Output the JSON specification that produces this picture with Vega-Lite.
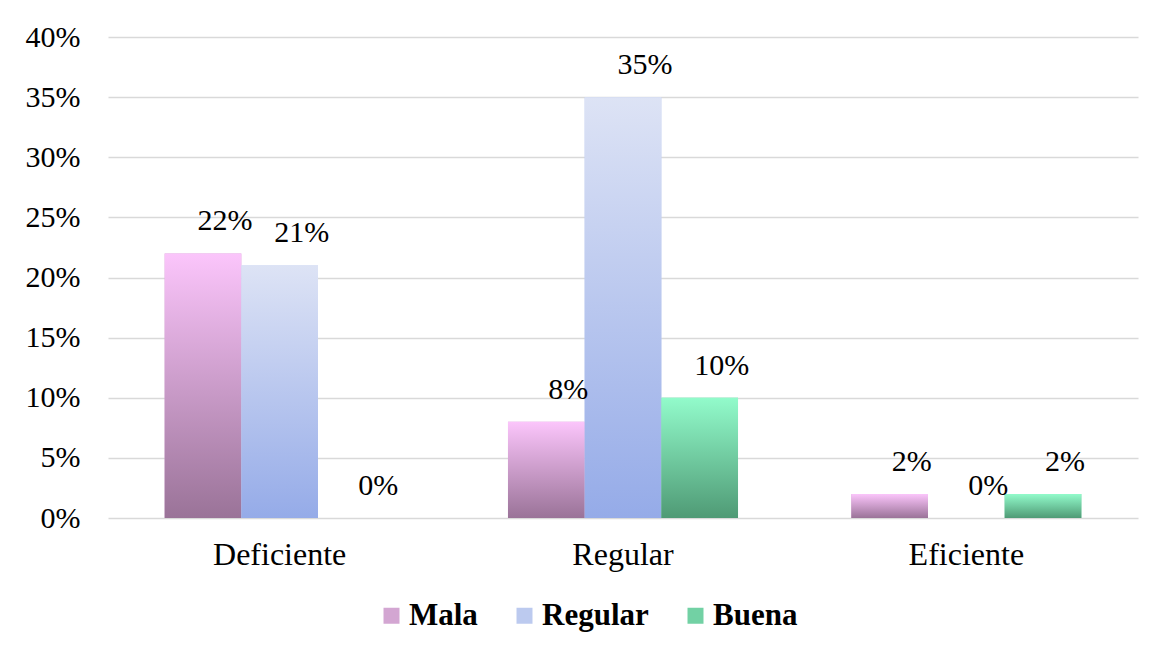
{
  "$schema": "https://vega.github.io/schema/vega-lite/v6.json",
  "autosize": "none",
  "width": 1030,
  "height": 481,
  "padding": {"left": 108, "top": 37, "right": 25, "bottom": 134},
  "background": "white",
  "config": {
    "view": {"stroke": null},
    "axis": {"labelFont": "Liberation Serif", "labelColor": "#000000", "ticks": false, "domain": false, "title": null}
  },
  "data": {
    "values": [
      {"categoria": "Deficiente", "serie": "Mala", "valor": 0.22},
      {"categoria": "Deficiente", "serie": "Regular", "valor": 0.21},
      {"categoria": "Deficiente", "serie": "Buena", "valor": 0.0},
      {"categoria": "Regular", "serie": "Mala", "valor": 0.08},
      {"categoria": "Regular", "serie": "Regular", "valor": 0.35},
      {"categoria": "Regular", "serie": "Buena", "valor": 0.10},
      {"categoria": "Eficiente", "serie": "Mala", "valor": 0.02},
      {"categoria": "Eficiente", "serie": "Regular", "valor": 0.0},
      {"categoria": "Eficiente", "serie": "Buena", "valor": 0.02}
    ]
  },
  "encoding": {
    "x": {
      "field": "categoria", "type": "nominal", "sort": ["Deficiente", "Regular", "Eficiente"],
      "scale": {"paddingInner": 0.33, "paddingOuter": 0.165},
      "axis": {"labelAngle": 0, "labelPadding": 21, "grid": false, "labelFontSize": 32}
    },
    "xOffset": {"field": "serie", "type": "nominal", "sort": ["Mala", "Regular", "Buena"], "scale": {"domain": ["Mala", "Regular", "Buena"], "paddingInner": 0, "paddingOuter": 0}},
    "y": {
      "field": "valor", "type": "quantitative",
      "scale": {"domain": [0, 0.4], "nice": false},
      "axis": {"values": [0, 0.05, 0.1, 0.15, 0.2, 0.25, 0.3, 0.35, 0.4], "format": ".0%", "labelPadding": 28, "labelFontSize": 30, "gridColor": "#d9d9d9", "gridWidth": 1.5}
    }
  },
  "layer": [
    {
      "mark": {"type": "bar"},
      "encoding": {
        "color": {
          "field": "serie", "type": "nominal", "sort": ["Mala", "Regular", "Buena"],
          "scale": {"domain": ["Mala", "Regular", "Buena"], "range": ["#d3a6d2", "#bccaef", "#72d1a4"]},
          "legend": {
            "title": null, "orient": "none", "direction": "horizontal", "legendX": 268, "legendY": 563,
            "symbolType": "square", "symbolSize": 256, "symbolStrokeWidth": 0, "labelFont": "Liberation Serif", "labelFontSize": 31, "labelFontWeight": "bold", "labelColor": "#000000",
            "labelOffset": 2, "columnPadding": 31
          }
        }
      }
    },
    {
      "transform": [{"filter": "datum.serie === 'Mala'"}],
      "mark": {"type": "bar", "color": {"gradient": "linear", "x1": 0, "y1": 0, "x2": 0, "y2": 1, "stops": [{"offset": 0, "color": "#fbc5fb"}, {"offset": 1, "color": "#9a7398"}]}}
    },
    {
      "transform": [{"filter": "datum.serie === 'Regular'"}],
      "mark": {"type": "bar", "color": {"gradient": "linear", "x1": 0, "y1": 0, "x2": 0, "y2": 1, "stops": [{"offset": 0, "color": "#dde3f5"}, {"offset": 1, "color": "#95abe8"}]}}
    },
    {
      "transform": [{"filter": "datum.serie === 'Buena'"}],
      "mark": {"type": "bar", "color": {"gradient": "linear", "x1": 0, "y1": 0, "x2": 0, "y2": 1, "stops": [{"offset": 0, "color": "#92fbcb"}, {"offset": 1, "color": "#4f9a75"}]}}
    },
    {
      "mark": {"type": "text", "font": "Liberation Serif", "fontSize": 30, "color": "#000000", "baseline": "middle", "dx": 22, "dy": -32},
      "encoding": {"text": {"field": "valor", "type": "quantitative", "format": ".0%"}}
    }
  ]
}
